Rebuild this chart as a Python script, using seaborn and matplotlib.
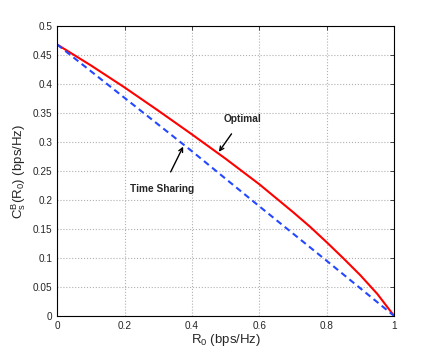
import numpy as np
import pandas as pd
import matplotlib
matplotlib.use("Agg")
import matplotlib.pyplot as plt
import seaborn as sns

# values
r0_opt = [0.0, 0.1, 0.2, 0.3, 0.4, 0.5, 0.6, 0.7, 0.75, 0.8, 0.85, 0.9, 0.95, 1.0]
optimal = [0.468, 0.432, 0.394, 0.354, 0.313, 0.271, 0.227, 0.179, 0.154,
           0.127, 0.099, 0.070, 0.038, 0.0]
r0_ts = [0.0, 0.2, 0.4, 0.6, 0.8, 1.0]
time_sharing = [0.468, 0.376, 0.284, 0.189, 0.095, 0.0]

df = pd.DataFrame({"R0": r0_opt + r0_ts,
                   "Cs": optimal + time_sharing,
                   "scheme": ["Optimal"] * len(r0_opt) + ["Time Sharing"] * len(r0_ts)})

sns.set_style("white")
plt.rcParams["font.family"] = ["Liberation Sans", "DejaVu Sans"]
plt.rcParams["mathtext.fontset"] = "custom"
plt.rcParams["mathtext.rm"] = "Liberation Sans"
plt.rcParams["mathtext.it"] = "Liberation Sans"

fig = plt.figure(figsize=(4.36, 3.55), dpi=100)
ax = fig.add_axes([0.131, 0.110, 0.773, 0.817])

sns.lineplot(data=df, x="R0", y="Cs", hue="scheme", style="scheme",
             palette={"Optimal": "#ff0000", "Time Sharing": "#2448ff"},
             dashes={"Optimal": "", "Time Sharing": (3, 2)},
             linewidth=1.5, legend=False, ax=ax)

ax.set_xlim(0, 1)
ax.set_ylim(0, 0.5)
ax.set_xticks([0, 0.2, 0.4, 0.6, 0.8, 1])
ax.set_xticklabels(["0", "0.2", "0.4", "0.6", "0.8", "1"])
ax.set_yticks(np.arange(0, 0.51, 0.05))
ax.set_yticklabels(["0", "0.05", "0.1", "0.15", "0.2", "0.25", "0.3",
                    "0.35", "0.4", "0.45", "0.5"])
ax.tick_params(direction="in", top=True, right=True, length=3,
               labelsize=7.2, width=0.6)
ax.grid(True, linestyle=":", color="#b0b0b0", linewidth=0.8)
for s in ax.spines.values():
    s.set_linewidth(0.8)
    s.set_color("black")

ax.set_xlabel(r"R$_0$ (bps/Hz)", fontsize=9.5, labelpad=1)
ax.set_ylabel(r"C$_s^B$(R$_0$) (bps/Hz)", fontsize=9.5, labelpad=3)

ax.annotate("Optimal", xy=(0.48, 0.283), xytext=(0.549, 0.34),
            fontsize=7.3, fontweight="bold", ha="center", va="center",
            arrowprops=dict(arrowstyle="->", color="black", lw=1,
                            shrinkA=6, shrinkB=0))
ax.annotate("Time Sharing", xy=(0.374, 0.292), xytext=(0.312, 0.219),
            fontsize=7.3, fontweight="bold", ha="center", va="center",
            arrowprops=dict(arrowstyle="->", color="black", lw=1,
                            shrinkA=7, shrinkB=0))

fig.savefig("out.png", dpi=100)
